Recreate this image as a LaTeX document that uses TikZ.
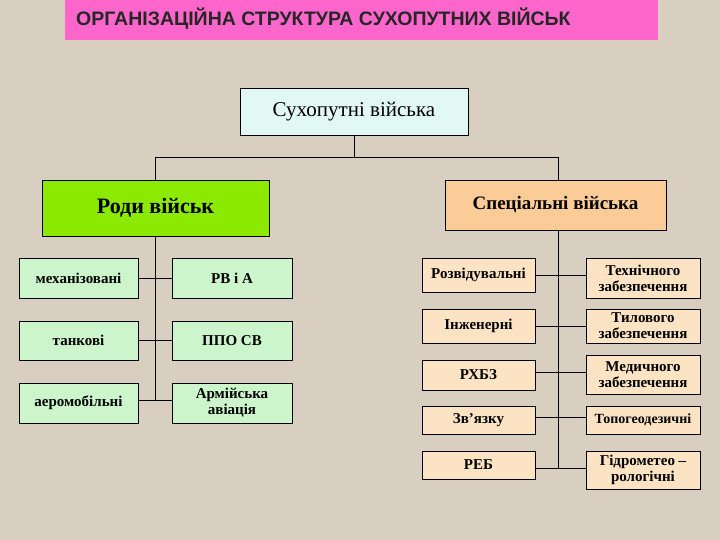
\documentclass[tikz,border=0pt]{standalone}
\usepackage{fontspec}
\setmainfont{Liberation Serif}
\newfontfamily\hdr{Liberation Sans}
\begin{document}
\begin{tikzpicture}[x=1pt,y=-1pt,
  bx/.style={draw=black,line width=0.6pt,font=\bfseries\fontsize{15}{16}\selectfont,align=center,inner sep=0pt},
  ln/.style={line width=0.7pt}]
\definecolor{bg}{HTML}{D8CFC1}
\definecolor{cy}{HTML}{E2F8F4}
\definecolor{gr}{HTML}{CCF5CC}
\definecolor{lime}{HTML}{8CEA00}
\definecolor{pe}{HTML}{FBCB98}
\definecolor{pl}{HTML}{FBE3C4}
\definecolor{pk}{HTML}{FF66CC}
\fill[bg] (0,0) rectangle (720,540);
\useasboundingbox (0,0) rectangle (720,540);
\newcommand\bxat[5]{\node[bx,fill=#5,minimum width={#3-#1},minimum height={#4-#2}] at ({(#1+#3)/2},{(#2+#4)/2})}
\node[fill=pk,minimum width=593,minimum height=40,inner sep=0pt] (t) at (361.5,20) {};
\node[anchor=west,inner sep=0pt,font=\hdr\bfseries\fontsize{19.5}{20}\selectfont,text=black!85] (tt) at (76,19) {ОРГАНІЗАЦІЙНА СТРУКТУРА СУХОПУТНИХ ВІЙСЬК};
\bxat{240}{88}{468}{135}{cy} (s) {\mdseries\fontsize{21}{22}\selectfont Сухопутні війська};
\bxat{42}{180}{269}{236}{lime} (r) {\fontsize{22}{22}\selectfont Роди військ};
\bxat{445}{180}{666}{230}{pe} (sp) {\fontsize{19}{20}\selectfont Спеціальні війська};
\bxat{19}{258}{138}{298}{gr} (a1) {механізовані};
\bxat{19}{321}{138}{360}{gr} (a2) {танкові};
\bxat{19}{383}{138}{423}{gr} (a3) {аеромобільні};
\bxat{172}{258}{292}{298}{gr} (b1) {РВ і А};
\bxat{172}{321}{292}{360}{gr} (b2) {ППО СВ};
\bxat{172}{383}{292}{423}{gr} (b3) {Армійська\\авіація};
\bxat{422}{258}{535}{292}{pl} (c1) {Розвідувальні};
\bxat{422}{309}{535}{343}{pl} (c2) {Інженерні};
\bxat{422}{360}{535}{390}{pl} (c3) {РХБЗ};
\bxat{422}{406}{535}{434}{pl} (c4) {Зв'язку};
\bxat{422}{451}{535}{479}{pl} (c5) {РЕБ};
\bxat{586}{258}{700}{298}{pl} (d1) {Технічного\\забезпечення};
\bxat{586}{309}{700}{343}{pl} (d2) {Тилового\\забезпечення};
\bxat{586}{355}{700}{394}{pl} (d3) {Медичного\\забезпечення};
\bxat{586}{406}{700}{434}{pl} (d4) {\fontsize{14}{15}\selectfont Топогеодезичні};
\bxat{586}{451}{700}{489}{pl} (d5) {Гідрометео --\\рологічні};
\coordinate (j) at (s.south|-0,157);
\draw[ln] (s.south) -- (j);
\draw[ln] (155,157) -- (558,157);
\draw[ln] (155,157) -- (155,180);
\draw[ln] (558,157) -- (558,180);
\draw[ln] (155,236) -- (155,400);
\foreach \y/\p/\q in {278/a1/b1,340/a2/b2,400/a3/b3}{\draw[ln] (\p.east|-0,\y) -- (\q.west|-0,\y);}
\draw[ln] (558,230) -- (558,468);
\foreach \y/\p/\q in {275/c1/d1,326/c2/d2,372/c3/d3,417/c4/d4,468/c5/d5}{\draw[ln] (\p.east|-0,\y) -- (\q.west|-0,\y);}
\end{tikzpicture}
\end{document}
